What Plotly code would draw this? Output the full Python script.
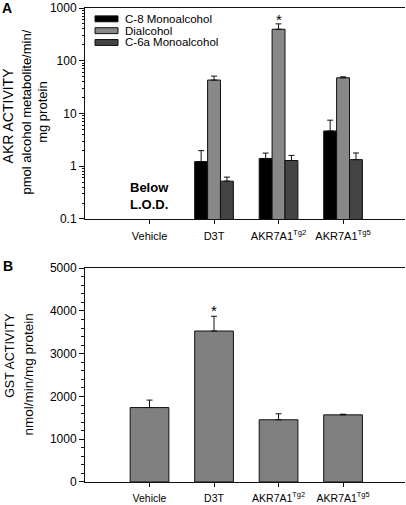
import math
import plotly.graph_objects as go

# ---------------- data ----------------
categories = ["Vehicle", "D3T", "AKR7A1Tg2", "AKR7A1Tg5"]
tick_labels = ["Vehicle", "D3T", "AKR7A1<sup>Tg2</sup>", "AKR7A1<sup>Tg5</sup>"]

# Panel A: AKR activity (pmol alcohol metabolite/min/mg protein); Vehicle below L.O.D.
akr_series = ["C-8 Monoalcohol", "Dialcohol", "C-6a Monoalcohol"]
c8_mean = [None, 1.22, 1.40, 4.65]
c8_err = [None, 0.75, 0.37, 2.8]
dial_mean = [None, 43.0, 395.0, 47.5]
dial_err = [None, 8.0, 105.0, 2.0]
c6a_mean = [None, 0.52, 1.28, 1.33]
c6a_err = [None, 0.10, 0.32, 0.45]

# Panel B: GST activity (nmol/min/mg protein)
gst_mean = [1740, 3530, 1455, 1570]
gst_err = [175, 345, 140, 15]

akr_yticks = [0.1, 1, 10, 100, 1000]
akr_yticklabels = ["0.1", "1", "10", "100", "1000"]

# ---------------- style ----------------
FONT = "Arial, Liberation Sans, Helvetica, sans-serif"
akr_colors = ["#000000", "#888888", "#444444"]
gst_color = "#808080"
W, H = 406, 505
L, R, T, B = 85, 1, 8, 16
PLOT_W = W - L - R
PLOT_H = H - T - B


def px2x(px):
    return (px - L) / PLOT_W


def py2y(py):
    return (H - B - py) / PLOT_H


fig = go.Figure()

akr_means = [c8_mean, dial_mean, c6a_mean]
akr_errs = [c8_err, dial_err, c6a_err]
for name, m, e, col in zip(akr_series, akr_means, akr_errs, akr_colors):
    fig.add_trace(go.Bar(
        x=categories, y=m, name=name, xaxis="x", yaxis="y",
        marker=dict(color=col, line=dict(color="#111111", width=1)),
        error_y=dict(type="data", array=e, arrayminus=[0 if v is not None else None for v in e],
                     symmetric=False, color="#111111", thickness=1, width=3),
        showlegend=False,
    ))

fig.add_trace(go.Bar(
    x=categories, y=gst_mean, name="GST", xaxis="x2", yaxis="y2",
    marker=dict(color=gst_color, line=dict(color="#111111", width=1)),
    error_y=dict(type="data", array=gst_err, arrayminus=[0] * len(gst_err),
                 symmetric=False, color="#111111", thickness=1, width=3),
    showlegend=False,
))

minor_log_vals = [m * 10 ** e for e in range(-1, 3) for m in range(2, 10)]

axis_common = dict(showline=True, linecolor="#111111", linewidth=1, showgrid=False,
                   zeroline=False, tickcolor="#111111", tickfont=dict(family=FONT, size=12, color="#000"))

fig.update_layout(
    width=W, height=H,
    margin=dict(l=L, r=R, t=T, b=B, pad=0),
    paper_bgcolor="white", plot_bgcolor="white",
    font=dict(family=FONT, color="#000"),
    barmode="group", bargap=0.4, bargroupgap=0,
    showlegend=False,
    xaxis=dict(domain=[0, 1], anchor="y", type="category", range=[-1.0, 3.96],
               tickmode="array", tickvals=categories, ticktext=tick_labels,
               ticks="outside", ticklen=4, mirror=True, ticklabelstandoff=3,
               **{**axis_common, "tickfont": dict(family=FONT, size=11, color="#000")}),
    yaxis=dict(domain=[py2y(222), 1], anchor="x", type="log", range=[-1, 3],
               tickmode="array", tickvals=akr_yticks, ticktext=akr_yticklabels,
               ticks="outside", ticklen=5,
               minor=dict(tickmode="array", tickvals=minor_log_vals, ticks="outside",
                          ticklen=2, tickcolor="#111111", showgrid=False),
               **axis_common),
    yaxis3=dict(overlaying="y", anchor="x", side="right", type="log", range=[-1, 3],
                tickmode="array", tickvals=akr_yticks, ticks="inside", ticklen=5,
                showticklabels=False,
                minor=dict(tickmode="array", tickvals=minor_log_vals, ticks="inside",
                           ticklen=2, tickcolor="#111111", showgrid=False),
                **axis_common),
    xaxis2=dict(domain=[0, 1], anchor="y2", type="category", range=[-1.0, 3.96],
                tickmode="array", tickvals=categories, ticktext=tick_labels,
                ticks="outside", ticklen=4, mirror=True, ticklabelstandoff=2,
                **{**axis_common, "tickfont": dict(family=FONT, size=10.5, color="#000")}),
    yaxis2=dict(domain=[0, py2y(272)], anchor="x2", range=[0, 5000], dtick=1000,
                ticks="outside", ticklen=5,
                minor=dict(dtick=200, ticks="outside", ticklen=3, tickcolor="#111111", showgrid=False),
                **axis_common),
    yaxis4=dict(overlaying="y2", anchor="x2", side="right", range=[0, 5000], dtick=1000,
                ticks="inside", ticklen=5, showticklabels=False,
                minor=dict(dtick=200, ticks="inside", ticklen=3, tickcolor="#111111", showgrid=False),
                **axis_common),
)

ann = []
# panel letters
ann.append(dict(text="<b>A</b>", xref="paper", yref="paper", x=px2x(7), y=py2y(8),
                showarrow=False, font=dict(family=FONT, size=14), xanchor="center", yanchor="middle"))
ann.append(dict(text="<b>B</b>", xref="paper", yref="paper", x=px2x(8), y=py2y(270),
                showarrow=False, font=dict(family=FONT, size=14), xanchor="center", yanchor="middle"))
# axis titles
ann.append(dict(text="AKR ACTIVITY", xref="paper", yref="paper", x=px2x(8), y=py2y(117),
                textangle=-90, showarrow=False, font=dict(family=FONT, size=14),
                xanchor="center", yanchor="middle"))
ann.append(dict(text="pmol alcohol metabolite/min/<br>mg protein", xref="paper", yref="paper",
                x=px2x(35), y=py2y(114), textangle=-90, showarrow=False,
                font=dict(family=FONT, size=13), xanchor="center", yanchor="middle"))
ann.append(dict(text="GST ACTIVITY", xref="paper", yref="paper", x=px2x(10), y=py2y(361),
                textangle=-90, showarrow=False, font=dict(family=FONT, size=12.5),
                xanchor="center", yanchor="middle"))
ann.append(dict(text="nmol/min/mg protein", xref="paper", yref="paper", x=px2x(29), y=py2y(380),
                textangle=-90, showarrow=False, font=dict(family=FONT, size=13.5),
                xanchor="center", yanchor="middle"))
# Below L.O.D.
ann.append(dict(text="<b>Below<br>L.O.D.</b>", xref="x", yref="paper", x=categories[0], y=py2y(199),
                showarrow=False, font=dict(family=FONT, size=13), xanchor="center", yanchor="middle"))
# significance asterisks
ann.append(dict(text="*", xref="x", yref="y", x=categories[2],
                y=math.log10(dial_mean[2] + dial_err[2]), showarrow=False,
                font=dict(family=FONT, size=15), xanchor="center", yanchor="bottom", yshift=-6))
ann.append(dict(text="*", xref="x2", yref="y2", x=categories[1], y=gst_mean[1] + gst_err[1],
                showarrow=False, font=dict(family=FONT, size=15), xanchor="center",
                yanchor="bottom", yshift=-5))

# custom legend (wide swatches like the original)
shapes = []
row_y = [19, 31, 43]
for name, col, ry in zip(akr_series, akr_colors, row_y):
    shapes.append(dict(type="rect", xref="paper", yref="paper",
                       x0=px2x(95), x1=px2x(118), y0=py2y(ry - 3), y1=py2y(ry + 3),
                       fillcolor=col, line=dict(color="#111111", width=1)))
    ann.append(dict(text=name, xref="paper", yref="paper", x=px2x(123), y=py2y(ry),
                    showarrow=False, font=dict(family=FONT, size=11.5),
                    xanchor="left", yanchor="middle"))

fig.update_layout(annotations=ann, shapes=shapes)
fig.write_html("out.html", config={"displayModeBar": False},
               post_script="document.body.style.margin='0';document.body.style.overflow='hidden';")
